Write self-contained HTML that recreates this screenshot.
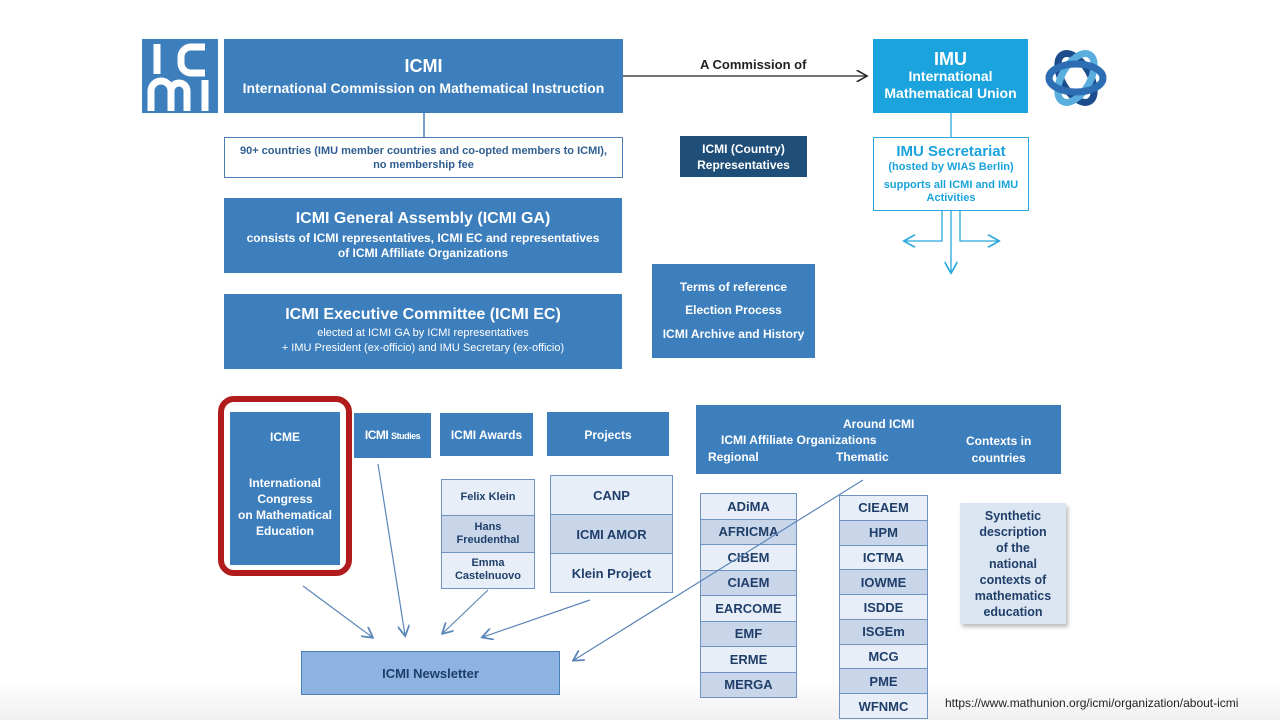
<!DOCTYPE html>
<html><head><meta charset="utf-8"><style>
body{margin:0;width:1280px;height:720px;position:relative;background:#fff;font-family:"Liberation Sans",sans-serif;overflow:hidden;font-weight:bold}
.b{position:absolute;box-sizing:border-box;display:flex;flex-direction:column;align-items:center;justify-content:center;text-align:center}
.f{background:#3d7ebd;color:#fff}
.o{background:#fff;border:1.5px solid #4a7fb8;color:#2f5f92}
.l{position:absolute;box-sizing:border-box;border:1.5px solid #6f93c0;display:flex;flex-direction:column}
.l div{flex:1;box-sizing:border-box;display:flex;align-items:center;justify-content:center;color:#1f3f6a;font-size:13px;border-bottom:1.5px solid #6f93c0;text-align:center;line-height:13px}
.l div:last-child{border-bottom:none}
.a{background:#e8eef7}.c{background:#c9d6e9}
svg{position:absolute;left:0;top:0}
</style></head><body>
<div style="position:absolute;left:0;top:680px;width:1280px;height:40px;background:linear-gradient(#fff,#f0f0f0)"></div>
<svg width="1280" height="720">
<defs>
<marker id="k" markerWidth="10" markerHeight="10" refX="8" refY="5" orient="auto"><path d="M0,0 L9,5 L0,10" fill="none" stroke="#222" stroke-width="1.3"/></marker>
<marker id="c" markerWidth="10" markerHeight="10" refX="8" refY="5" orient="auto"><path d="M0,0 L9,5 L0,10" fill="none" stroke="#29a8dc" stroke-width="1.3"/></marker></defs>
<rect x="142" y="39" width="76" height="74" fill="#3d7ebd"/>
<g stroke="#fff" stroke-width="7" fill="none"><line x1="157" y1="44" x2="157" y2="74"/><path d="M205,47 h-14 a10,10 0 0 0 -10,10 v6 a10,10 0 0 0 10,10 h14"/><path d="M151,111 v-20 a10,10 0 0 1 20,0 v20 M171,91 a8,8 0 0 1 16,0 v20"/><line x1="205" y1="80" x2="205" y2="111"/></g>
<line x1="623" y1="76" x2="866" y2="76" stroke="#222" stroke-width="1.2" marker-end="url(#k)"/>
<line x1="424" y1="113" x2="424" y2="137" stroke="#4a7fb8" stroke-width="1.5"/>
<g stroke="#29a8dc" stroke-width="1.3" fill="none"><line x1="951" y1="113" x2="951" y2="137"/><line x1="951" y1="211" x2="951" y2="272" marker-end="url(#c)"/><path d="M942,211 V241 H905" marker-end="url(#c)"/><path d="M960,211 V241 H998" marker-end="url(#c)"/></g>
<g fill="none" stroke-width="7" stroke-linecap="round"><ellipse cx="1076" cy="78" rx="27" ry="14" stroke="#1d4d8c" transform="rotate(60 1076 78)"/><ellipse cx="1076" cy="78" rx="27" ry="14" stroke="#5aaede" transform="rotate(-60 1076 78)"/><ellipse cx="1076" cy="78" rx="27" ry="14" stroke="#2c6db3"/></g>
</svg>
<div class="b f" style="left:224px;top:39px;width:399px;height:74px"><div style="font-size:18px">ICMI</div><div style="font-size:14px;margin-top:3px">International Commission on Mathematical Instruction</div></div>
<div style="position:absolute;left:700px;top:57px;font-size:13px;color:#222">A Commission of</div>
<div class="b" style="left:873px;top:39px;width:155px;height:74px;background:#1aa3dc;color:#fff;font-size:14px;line-height:17px"><div style="font-size:18px">IMU</div>International<br>Mathematical Union</div>
<div class="b o" style="left:224px;top:137px;width:399px;height:41px;font-size:11px;line-height:14px">90+ countries (IMU member countries and co-opted members to ICMI),<br>no membership fee</div>
<div class="b" style="left:680px;top:136px;width:127px;height:41px;background:#1f4e79;color:#fff;font-size:12px;line-height:16px">ICMI (Country)<br>Representatives</div>
<div class="b" style="left:873px;top:137px;width:156px;height:74px;border:1.5px solid #29a8dc;color:#1aa3dc;font-size:11px;line-height:13px"><div style="font-size:15px;line-height:18px">IMU Secretariat</div>(hosted by WIAS Berlin)<div style="margin-top:5px">supports all ICMI and IMU<br>Activities</div></div>
<div class="b f" style="left:224px;top:198px;width:398px;height:75px;font-size:12px;line-height:15px"><div style="font-size:16px;margin-bottom:5px">ICMI General Assembly (ICMI GA)</div>consists of ICMI representatives, ICMI EC and representatives<br>of ICMI Affiliate Organizations</div>
<div class="b f" style="left:224px;top:294px;width:398px;height:75px;font-size:11px;line-height:15px;font-weight:normal"><div style="font-size:16px;margin-bottom:4px;font-weight:bold">ICMI Executive Committee (ICMI EC)</div>elected at ICMI GA by ICMI representatives<br>+ IMU President (ex-officio) and IMU Secretary (ex-officio)</div>
<div class="b f" style="left:652px;top:264px;width:163px;height:94px;font-size:12px;line-height:23.5px">Terms of reference<br>Election Process<br>ICMI Archive and History</div>
<div style="position:absolute;left:218px;top:396px;width:134px;height:180px;box-sizing:border-box;border:6px solid #b01c1c;border-radius:16px"></div>
<div class="b f" style="left:230px;top:412px;width:110px;height:153px;font-size:12px;line-height:16px"><div style="margin-bottom:30px;margin-top:-10px">ICME</div>International<br>Congress<br>on Mathematical<br>Education</div>
<div class="b f" style="left:354px;top:413px;width:77px;height:45px;font-size:12px;letter-spacing:-0.5px;white-space:nowrap;display:block;line-height:45px">ICMI <span style="font-size:9px">Studies</span></div>
<div class="b f" style="left:440px;top:413px;width:93px;height:43px;font-size:12px">ICMI Awards</div>
<div class="b f" style="left:547px;top:412px;width:122px;height:44px;font-size:12px;justify-content:flex-start;padding-top:16px">Projects</div>
<div class="l" style="left:441px;top:479px;width:94px;height:110px"><div class="a" style="font-size:11px">Felix Klein</div><div class="c" style="font-size:11px">Hans<br>Freudenthal</div><div class="a" style="font-size:11px">Emma<br>Castelnuovo</div></div>
<div class="l" style="left:550px;top:475px;width:123px;height:118px"><div class="a">CANP</div><div class="c">ICMI AMOR</div><div class="a">Klein Project</div></div>
<div class="b" style="left:301px;top:651px;width:259px;height:44px;background:#8db3e2;border:1.5px solid #4a7fb8;color:#1f3f6a;font-size:13px">ICMI Newsletter</div>
<div class="f" style="position:absolute;left:696px;top:405px;width:365px;height:69px;font-size:12px">
<div style="position:absolute;left:147px;top:12px">Around ICMI</div>
<div style="position:absolute;left:25px;top:28px">ICMI Affiliate Organizations</div>
<div style="position:absolute;left:12px;top:45px">Regional</div>
<div style="position:absolute;left:140px;top:45px">Thematic</div>
<div style="position:absolute;left:270px;top:28px;text-align:center;line-height:17px">Contexts in<br>countries</div></div>
<div class="l" style="left:700px;top:493px;width:97px;height:205px"><div class="a">ADiMA</div><div class="c">AFRICMA</div><div class="a">CIBEM</div><div class="c">CIAEM</div><div class="a">EARCOME</div><div class="c">EMF</div><div class="a">ERME</div><div class="c">MERGA</div></div>
<div class="l" style="left:839px;top:495px;width:89px;height:224px"><div class="a">CIEAEM</div><div class="c">HPM</div><div class="a">ICTMA</div><div class="c">IOWME</div><div class="a">ISDDE</div><div class="c">ISGEm</div><div class="a">MCG</div><div class="c">PME</div><div class="a">WFNMC</div></div>
<div class="b" style="left:960px;top:503px;width:106px;height:121px;background:#dce6f2;color:#1f3f6a;font-size:12.5px;line-height:16px;box-shadow:2px 3px 4px #bbb">Synthetic<br>description<br>of the<br>national<br>contexts of<br>mathematics<br>education</div>
<div style="position:absolute;left:945px;top:696px;font-size:12px;font-weight:normal;color:#222">https://www.mathunion.org/icmi/organization/about-icmi</div>
<svg width="1280" height="720">
<defs><marker id="m" markerWidth="10" markerHeight="10" refX="8" refY="5" orient="auto"><path d="M0,0 L9,5 L0,10" fill="none" stroke="#5b86b8" stroke-width="1.5"/></marker></defs>
<g stroke="#5b86b8" stroke-width="1.2" marker-end="url(#m)"><line x1="303" y1="586" x2="372" y2="637"/><line x1="378" y1="464" x2="405" y2="635"/><line x1="488" y1="590" x2="443" y2="633"/><line x1="590" y1="600" x2="483" y2="637"/><line x1="863" y1="480" x2="574" y2="660"/></g>
</svg>
</body></html>
